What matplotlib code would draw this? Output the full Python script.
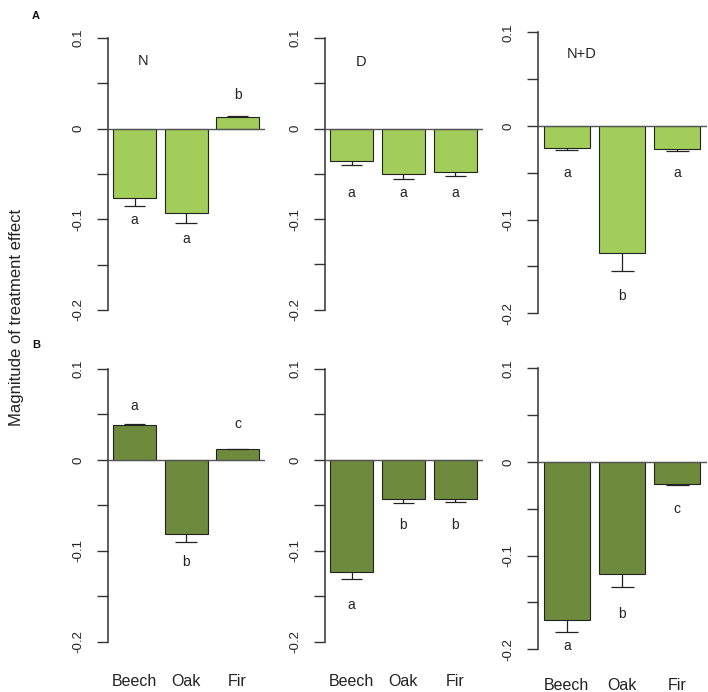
import matplotlib
matplotlib.use("Agg")
import matplotlib.pyplot as plt

plt.rcParams['font.family'] = ['Liberation Sans', 'DejaVu Sans']

# ---------------- data ----------------
species = ["Beech", "Oak", "Fir"]
treatments = ["N", "D", "N+D"]
yticks_major = [0.1, 0.0, -0.1, -0.2]
ytick_labels = ["0.1", "0", "-0.1", "-0.2"]
yticks_minor = [0.05, -0.05, -0.15]

# Row A
a_n_mean = [-0.076, -0.093, 0.013]
a_n_se = [0.009, 0.011, 0.001]
a_n_letters = ["a", "a", "b"]
a_n_letter_y = [-0.101, -0.122, 0.037]

a_d_mean = [-0.036, -0.050, -0.048]
a_d_se = [0.004, 0.006, 0.004]
a_d_letters = ["a", "a", "a"]
a_d_letter_y = [-0.071, -0.071, -0.071]

a_nd_mean = [-0.0235, -0.136, -0.0246]
a_nd_se = [0.002, 0.019, 0.002]
a_nd_letters = ["a", "b", "a"]
a_nd_letter_y = [-0.050, -0.181, -0.050]

# Row B
b_n_mean = [0.038, -0.081, 0.012]
b_n_se = [0.002, 0.009, 0.0005]
b_n_letters = ["a", "b", "c"]
b_n_letter_y = [0.059, -0.112, 0.039]

b_d_mean = [-0.123, -0.043, -0.043]
b_d_se = [0.008, 0.004, 0.003]
b_d_letters = ["a", "b", "b"]
b_d_letter_y = [-0.1595, -0.072, -0.072]

b_nd_mean = [-0.169, -0.120, -0.0235]
b_nd_se = [0.012, 0.013, 0.001]
b_nd_letters = ["a", "b", "c"]
b_nd_letter_y = [-0.196, -0.162, -0.0505]

# ---------------- style ----------------
W, H = 708, 692
light_green = "#A2CD5A"
dark_green = "#6E8B3D"
bar_pos = [0.7, 1.9, 3.1]

fig = plt.figure(figsize=(W / 100, H / 100), dpi=100)


def make_axes(left, right, top, bottom):
    return fig.add_axes([left / W, 1 - bottom / H, (right - left) / W, (bottom - top) / H])


def panel(ax, means, ses, letters, letter_y, color, title=None, title_xy=None,
          show_names=False, name_offset=40):
    ax.set_xlim(0.08, 3.74)
    ax.set_ylim(-0.2, 0.1)
    ax.bar(bar_pos, means, width=1.0, color=color, edgecolor="#222222",
           linewidth=0.8, zorder=2)
    ax.axhline(0, color="#555555", linewidth=1.0, zorder=3)
    for x, m, s in zip(bar_pos, means, ses):
        end = m + s if m >= 0 else m - s
        ax.vlines(x, m, end, color="#222222", linewidth=0.9, zorder=3)
        ax.hlines(end, x - 0.25, x + 0.25, color="#222222", linewidth=0.9, zorder=3)
    for x, lt, ly in zip(bar_pos, letters, letter_y):
        ax.text(x, ly, lt, ha="center", va="center", fontsize=10, color="#222222")
    if title:
        ax.text(title_xy[0], title_xy[1], title, ha="center", va="center",
                fontsize=10.5, color="#222222")
    for sp in ["top", "right", "bottom"]:
        ax.spines[sp].set_visible(False)
    ax.spines["left"].set_color("#333333")
    ax.spines["left"].set_linewidth(1.1)
    ax.set_yticks(yticks_major)
    ax.set_yticklabels(ytick_labels)
    ax.set_yticks(yticks_minor, minor=True)
    ax.tick_params(axis="y", which="both", length=8, width=1.0, color="#333333",
                   labelsize=9.5, labelcolor="#222222", pad=9)
    for lab in ax.get_yticklabels():
        lab.set_rotation(90)
        lab.set_va("center")
        lab.set_ha("right")
    ax.set_xticks([])
    if show_names:
        for x, nm in zip(bar_pos, species):
            ax.annotate(nm, xy=(x, 0), xycoords=("data", "axes fraction"),
                        xytext=(0, -name_offset), textcoords="offset pixels",
                        ha="center", va="center", fontsize=11.5, color="#222222",
                        annotation_clip=False)
    ax.patch.set_alpha(0)


ax1 = make_axes(108, 265, 38, 310)
panel(ax1, a_n_mean, a_n_se, a_n_letters, a_n_letter_y, light_green,
      treatments[0], (0.9, 0.075))
ax2 = make_axes(324.7, 483, 38, 309.7)
panel(ax2, a_d_mean, a_d_se, a_d_letters, a_d_letter_y, light_green,
      treatments[1], (0.93, 0.074))
ax3 = make_axes(538.3, 706.7, 32.3, 313.3)
panel(ax3, a_nd_mean, a_nd_se, a_nd_letters, a_nd_letter_y, light_green,
      treatments[2], (1.03, 0.077))

ax4 = make_axes(108, 265, 369, 641.7)
panel(ax4, b_n_mean, b_n_se, b_n_letters, b_n_letter_y, dark_green,
      show_names=True, name_offset=40)
ax5 = make_axes(324.7, 483, 369, 641.7)
panel(ax5, b_d_mean, b_d_se, b_d_letters, b_d_letter_y, dark_green,
      show_names=True, name_offset=40)
ax6 = make_axes(538.3, 706.7, 368.3, 649.3)
panel(ax6, b_nd_mean, b_nd_se, b_nd_letters, b_nd_letter_y, dark_green,
      show_names=True, name_offset=36)

fig.text(36 / W, 1 - 16 / H, "A", ha="center", va="center", fontsize=8,
         fontweight="bold", color="#111111")
fig.text(36 / W, 1 - 345 / H, "B", ha="center", va="center", fontsize=8,
         fontweight="bold", color="#111111")
fig.text(17 / W, 1 - 317.5 / H, "Magnitude of treatment effect", rotation=90,
         ha="center", va="center", fontsize=12, color="#222222")

fig.savefig("out.png", dpi=100)
